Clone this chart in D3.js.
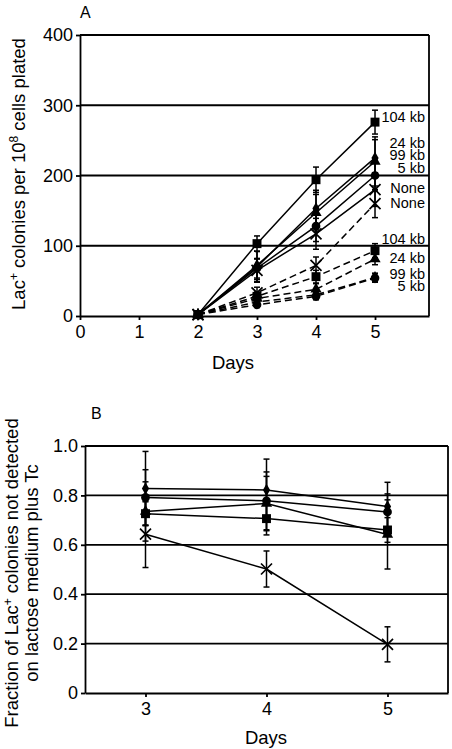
<!DOCTYPE html>
<html>
<head>
<meta charset="utf-8">
<script src="https://cdn.jsdelivr.net/npm/d3@7"></script>
<style>
  html, body { margin: 0; padding: 0; background: #fff; }
  svg { display: block; font-family: "Liberation Sans", Arial, sans-serif; }
</style>
</head>
<body>
<svg id="chart" width="452" height="749"></svg>
<script>
// ---------------- DATA ----------------
// Panel A
const daysA = [2, 3, 4, 5];
const xTicksA = [0, 1, 2, 3, 4, 5];
const yTicksA = [0, 100, 200, 300, 400];
const seriesNamesA = ["104 kb", "24 kb", "99 kb", "5 kb", "None", "None", "104 kb", "24 kb", "99 kb", "5 kb"];
const markersA = ["square", "triangle", "diamond", "circle", "x", "x", "square", "triangle", "diamond", "circle"];
const dashedA = [false, false, false, false, false, true, true, true, true, true];
const valuesA = [
  [2, 103, 194, 276],
  [2, 72, 147, 220],
  [2, 70, 153, 225],
  [2, 68, 128, 200],
  [2, 65, 117, 180],
  [2, 33, 72, 160],
  [2, 28, 56, 93],
  [2, 25, 38, 81],
  [2, 20, 30, 55],
  [2, 16, 28, 54]
];
const errorsA = [
  [3, 11, 18, 17],
  [2, 20, 26, 35],
  [2, 22, 26, 26],
  [2, 14, 22, 22],
  [2, 16, 22, 24],
  [2, 8, 12, 20],
  [1, 6, 9, 10],
  [1, 5, 8, 8],
  [1, 4, 5, 6],
  [1, 4, 5, 6]
];
// labels at the right of panel A (value level where each label sits)
const labelTextA = ["104 kb", "24 kb", "99 kb", "5 kb", "None", "None", "104 kb", "24 kb", "99 kb", "5 kb"];
const labelLevelA = [283, 246, 229, 211, 182, 161, 110, 83, 60, 43];

// Panel B
const daysB = [3, 4, 5];
const xTicksB = [3, 4, 5];
const yTicksB = [0, 0.2, 0.4, 0.6, 0.8, 1.0];
const yTickLabelsB = ["0", "0.2", "0.4", "0.6", "0.8", "1.0"];
const markersB = ["diamond", "circle", "triangle", "square", "x"];
const valuesB = [
  [0.828, 0.822, 0.755],
  [0.792, 0.778, 0.733],
  [0.735, 0.767, 0.642],
  [0.726, 0.706, 0.660],
  [0.643, 0.502, 0.197]
];
const errorsB = [
  [0.150, 0.125, 0.098],
  [0.112, 0.117, 0.073],
  [0.120, 0.110, 0.140],
  [0.048, 0.066, 0.050],
  [0.135, 0.073, 0.071]
];

// ---------------- DRAWING ----------------
const svg = d3.select("#chart");
svg.append("rect").attr("width", 452).attr("height", 749).attr("fill", "#fff");

const FONT_TICK = 18;
const FONT_TITLE = 18.5;
const SW = 1.8;

function symbolFor(g, type, cx, cy) {
  if (type === "x") {
    const r = 5.5;
    g.append("path")
      .attr("d", `M${cx - r},${cy - r}L${cx + r},${cy + r}M${cx - r},${cy + r}L${cx + r},${cy - r}`)
      .attr("stroke", "#000").attr("stroke-width", 1.7).attr("fill", "none");
    return;
  }
  const map = {
    square: [d3.symbolSquare, 80],
    triangle: [d3.symbolTriangle, 55],
    diamond: [d3.symbolDiamond, 45],
    circle: [d3.symbolCircle, 60]
  };
  const [sym, size] = map[type];
  g.append("path")
    .attr("d", d3.symbol().type(sym).size(size)())
    .attr("transform", `translate(${cx},${cy})`)
    .attr("fill", "#000");
}

function drawPanel(opts) {
  const { x, y, xTicks, yTicks, yFmt, series, markers, dashed, days, errors } = opts;
  const g = svg.append("g");
  const [x0, x1] = x.range();
  const [y0, y1] = y.range();

  // gridlines (excluding 0 which is axis)
  g.selectAll(".grid").data(yTicks.filter(t => t !== 0)).enter().append("line")
    .attr("x1", x0).attr("x2", x1)
    .attr("y1", d => y(d)).attr("y2", d => y(d))
    .attr("stroke", "#000").attr("stroke-width", SW);
  // right border
  g.append("line").attr("x1", x1).attr("x2", x1).attr("y1", y1).attr("y2", y0)
    .attr("stroke", "#000").attr("stroke-width", SW);

  // axes
  const ya = g.append("g").attr("transform", `translate(${x0},0)`)
    .call(d3.axisLeft(y).tickValues(yTicks).tickFormat(yFmt).tickSize(4).tickSizeOuter(0).tickPadding(3));
  const xa = g.append("g").attr("transform", `translate(0,${y0})`)
    .call(d3.axisBottom(x).tickValues(xTicks).tickFormat(d3.format("d")).tickSize(4).tickSizeOuter(0).tickPadding(5));
  [ya, xa].forEach(a => {
    a.select(".domain").attr("stroke", "#000").attr("stroke-width", SW);
    a.selectAll(".tick line").attr("stroke", "#000").attr("stroke-width", SW);
    a.selectAll(".tick text").attr("font-size", FONT_TICK).attr("fill", "#000")
      .attr("font-family", '"Liberation Sans", Arial, sans-serif');
  });

  const line = d3.line().x((d, i) => x(days[i])).y(d => y(d));
  // lines
  series.forEach((vals, si) => {
    g.append("path").attr("d", line(vals))
      .attr("fill", "none").attr("stroke", "#000").attr("stroke-width", 1.5)
      .attr("stroke-dasharray", dashed[si] ? "7,4" : null);
  });
  // error bars
  series.forEach((vals, si) => {
    vals.forEach((v, i) => {
      const e = errors[si][i];
      const cx = x(days[i]);
      g.append("line").attr("x1", cx).attr("x2", cx).attr("y1", y(v - e)).attr("y2", y(v + e))
        .attr("stroke", "#000").attr("stroke-width", 1.5);
      [v - e, v + e].forEach(t => {
        g.append("line").attr("x1", cx - 3).attr("x2", cx + 3).attr("y1", y(t)).attr("y2", y(t))
          .attr("stroke", "#000").attr("stroke-width", 1.5);
      });
    });
  });
  // markers
  series.forEach((vals, si) => {
    vals.forEach((v, i) => symbolFor(g, markers[si], x(days[i]), y(v)));
  });
  return g;
}

// ---- Panel A ----
const xA = d3.scaleLinear().domain([0, 5.915]).range([80, 429]);
const yA = d3.scaleLinear().domain([0, 400]).range([316, 35]);
drawPanel({
  x: xA, y: yA, xTicks: xTicksA, yTicks: yTicksA, yFmt: d3.format("d"),
  series: valuesA, markers: markersA, dashed: dashedA, days: daysA, errors: errorsA
});
svg.append("g").selectAll("text").data(labelTextA).enter().append("text")
  .attr("x", 425).attr("y", (d, i) => yA(labelLevelA[i]))
  .attr("dy", "0.36em").attr("text-anchor", "end")
  .attr("font-size", 14.5).attr("fill", "#000").text(d => d);

svg.append("text").attr("x", 80).attr("y", 18).attr("font-size", 16).text("A");
svg.append("text").attr("x", 233).attr("y", 369).attr("text-anchor", "middle")
  .attr("font-size", FONT_TITLE).text("Days");
const tA = svg.append("text").attr("transform", "translate(25,174) rotate(-90)")
  .attr("text-anchor", "middle").attr("font-size", FONT_TITLE);
tA.append("tspan").text("Lac");
tA.append("tspan").attr("font-size", 12).attr("dy", -7).text("+");
tA.append("tspan").attr("dy", 7).text(" colonies per 10");
tA.append("tspan").attr("font-size", 12).attr("dy", -7).text("8");
tA.append("tspan").attr("dy", 7).text(" cells plated");

// ---- Panel B ----
const xB = d3.scaleLinear().domain([2.5, 5.5]).range([85, 448]);
const yB = d3.scaleLinear().domain([0, 1]).range([693, 446]);
drawPanel({
  x: xB, y: yB, xTicks: xTicksB, yTicks: yTicksB, yFmt: (d, i) => yTickLabelsB[i],
  series: valuesB, markers: markersB, dashed: valuesB.map(() => false), days: daysB, errors: errorsB
});
svg.append("text").attr("x", 91).attr("y", 419).attr("font-size", 16).text("B");
svg.append("text").attr("x", 266).attr("y", 744).attr("text-anchor", "middle")
  .attr("font-size", FONT_TITLE).text("Days");
const tB = svg.append("text").attr("transform", "translate(18,573) rotate(-90)")
  .attr("text-anchor", "middle").attr("font-size", FONT_TITLE);
tB.append("tspan").text("Fraction of Lac");
tB.append("tspan").attr("font-size", 12).attr("dy", -6).text("+");
tB.append("tspan").attr("dy", 6).text(" colonies not detected");
svg.append("text").attr("transform", "translate(38,573) rotate(-90)")
  .attr("text-anchor", "middle").attr("font-size", FONT_TITLE).text("on lactose medium plus Tc");
</script>
</body>
</html>
